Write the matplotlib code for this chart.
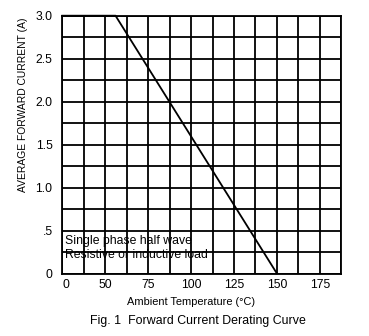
import numpy as np
import matplotlib
matplotlib.use("Agg")
import matplotlib.pyplot as plt
from matplotlib.ticker import FixedLocator, FixedFormatter

plt.rcParams['font.family'] = ['Liberation Sans', 'DejaVu Sans']

# derating curve
temp = [0, 56, 150]
current = [3.0, 3.0, 0.0]

x_ticks = [0, 50, 75, 100, 125, 150, 175]
x_labels = ["0", "50", "75", "100", "125", "150", "175"]
y_ticks = [0, 0.5, 1.0, 1.5, 2.0, 2.5, 3.0]
y_labels = ["0", ".5", "1.0", "1.5", "2.0", "2.5", "3.0"]


# broken x axis: 0..50 squeezed into two cells, then 12.5 per cell
def fwd(x):
    x = np.asarray(x, dtype=float)
    return np.where(x <= 50, x / 25.0, 2 + (x - 50) / 12.5)


def inv(u):
    u = np.asarray(u, dtype=float)
    return np.where(u <= 2, u * 25.0, 50 + (u - 2) * 12.5)


fig = plt.figure(figsize=(3.69, 3.36), dpi=100)
ax = fig.add_axes([62.3 / 369, 1 - 273.5 / 336, (341.3 - 62.3) / 369, (273.5 - 15.7) / 336])

ax.set_xscale('function', functions=(fwd, inv))
ax.set_xlim(0, 187.5)
ax.set_ylim(0, 3.0)

cells = [0, 25] + list(np.arange(50, 188, 12.5))
ax.xaxis.remove_overlapping_locs = False
ax.yaxis.remove_overlapping_locs = False
ax.xaxis.set_minor_locator(FixedLocator(cells))
ax.yaxis.set_minor_locator(FixedLocator(np.arange(0, 3.01, 0.25)))
ax.xaxis.set_major_locator(FixedLocator(x_ticks))
ax.xaxis.set_major_formatter(FixedFormatter(x_labels))
ax.yaxis.set_major_locator(FixedLocator(y_ticks))
ax.yaxis.set_major_formatter(FixedFormatter(y_labels))
ax.grid(which='minor', color='black', lw=1.3)
ax.grid(which='major', visible=False)
ax.tick_params(which='both', length=0, labelsize=8.7)
ax.tick_params(axis='x', pad=4)
ax.tick_params(axis='y', pad=7)
for lab in ax.get_xticklabels():
    lab.set_ha('left' if lab.get_text() == "0" else 'center')
for s in ax.spines.values():
    s.set_linewidth(1.3)

ax.plot(temp, current, color='black', lw=1.3, clip_on=False)

ax.text(3, 0.375, "Single phase half wave", fontsize=8.8, va='center')
ax.text(3, 0.215, "Resistive or inductive load", fontsize=8.8, va='center')

fig.text(23 / 369, 1 - 105 / 336, "AVERAGE FORWARD CURRENT (A)", rotation=90,
         ha='center', va='center', fontsize=7.4)
fig.text(191 / 369, 1 - 302 / 336, "Ambient Temperature (\u00b0C)",
         ha='center', va='center', fontsize=7.9)
fig.text(198 / 369, 1 - 321 / 336, "Fig. 1  Forward Current Derating Curve",
         ha='center', va='center', fontsize=8.9)

fig.savefig("out.png", dpi=100)
